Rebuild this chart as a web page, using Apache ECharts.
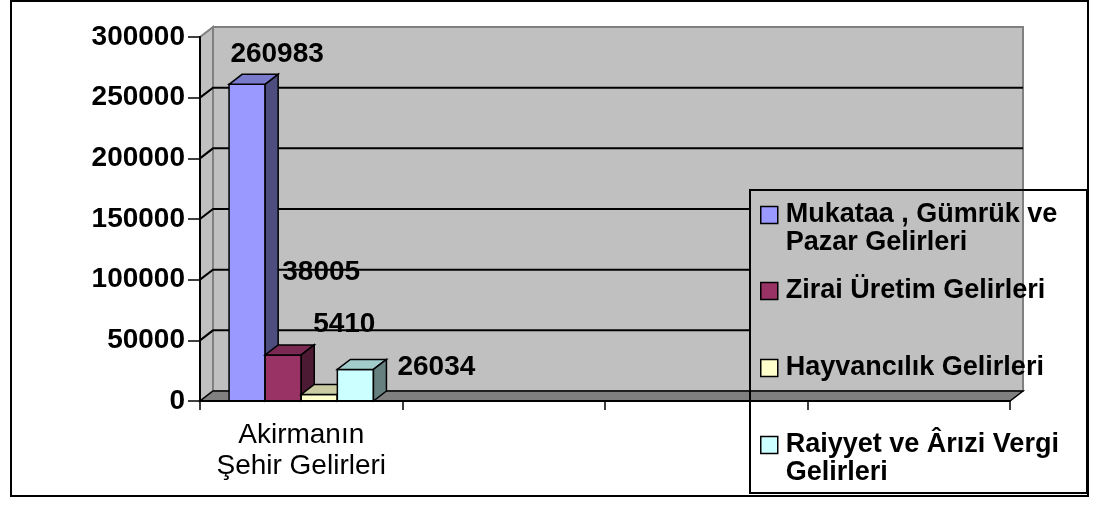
<!DOCTYPE html>
<html>
<head>
<meta charset="utf-8">
<script src="https://cdn.jsdelivr.net/npm/echarts@6/dist/echarts.min.js"></script>
<style>
  html, body { margin: 0; padding: 0; background: #fff; }
  #main { width: 1095px; height: 508px; }
</style>
</head>
<body>
<div id="main"></div>
<script>
// veriler
const categories = ['Akirmanın\nŞehir Gelirleri', '', '', ''];
const seriesNames = [
    'Mukataa , Gümrük ve\nPazar Gelirleri',
    'Zirai Üretim Gelirleri',
    'Hayvancılık Gelirleri',
    'Raiyyet ve Ârızi Vergi\nGelirleri'
];
const mukataa = [260983];
const zirai = [38005];
const hayvancilik = [5410];
const raiyyet = [26034];
const seriesValues = [mukataa, zirai, hayvancilik, raiyyet];

const yMax = 300000;
const yStep = 50000;

// görünüm
const colors = ['#9999FF', '#993366', '#FFFFCC', '#CCFFFF'];
const labelOffsets = [[30, -30], [38, -83], [25, -70], [81, -2]];
const legendTops = [173, 277, 354, 403];
const DEPTH = [13, -10];
const CAT_GAP = 0.287;
const LEGEND_BOX = { x: 750, y: 190, w: 337, h: 303 };
const FONT = '"Liberation Sans", Arial, sans-serif';

function shade(hex, f) {
    const n = parseInt(hex.slice(1), 16);
    const r = Math.round(((n >> 16) & 255) * f);
    const g = Math.round(((n >> 8) & 255) * f);
    const b = Math.round((n & 255) * f);
    return 'rgb(' + r + ',' + g + ',' + b + ')';
}

let myChart = echarts.init(document.getElementById('main'));

const gridValues = [];
for (let v = 0; v <= yMax; v += yStep) gridValues.push([0, v]);

function renderWalls(params, api) {
    const cs = params.coordSys;
    const [dx, dy] = DEPTH;
    const left = cs.x, right = cs.x + cs.width, top = cs.y, bottom = cs.y + cs.height;
    const v = api.value(1);
    const y = api.coord([0, v])[1];
    const children = [];
    if (params.dataIndex === 0) {
        children.push({
            type: 'rect',
            shape: { x: left + dx, y: top + dy, width: cs.width, height: cs.height },
            style: { fill: '#c0c0c0', stroke: '#808080', lineWidth: 2 }
        });
        children.push({
            type: 'polygon',
            shape: { points: [[left, top], [left + dx, top + dy], [left + dx, bottom + dy], [left, bottom]] },
            style: { fill: '#c0c0c0', stroke: '#808080', lineWidth: 2 }
        });
        children.push({
            type: 'polygon',
            shape: { points: [[left, bottom], [left + dx, bottom + dy], [right + dx, bottom + dy], [right, bottom]] },
            style: { fill: '#808080', stroke: '#000', lineWidth: 1.5 }
        });
    } else if (v < yMax) {
        let endX = right + dx;
        if (y + dy > LEGEND_BOX.y) endX = Math.min(endX, LEGEND_BOX.x);
        children.push({
            type: 'polyline',
            shape: { points: [[left, y], [left + dx, y + dy], [endX, y + dy]] },
            style: { stroke: '#000', lineWidth: 2, fill: 'none' }
        });
    }
    return { type: 'group', children: children };
}

function makeBarRender(si) {
    return function (params, api) {
        const [dx, dy] = DEPTH;
        const cat = api.value(0);
        const val = api.value(1);
        const base = api.coord([cat, 0]);
        const tp = api.coord([cat, val]);
        const band = api.size([1, 0])[0];
        const groupW = band * (1 - CAT_GAP);
        const bw = groupW / seriesValues.length;
        const x0 = base[0] - groupW / 2 + si * bw;
        const x1 = x0 + bw;
        const ty = tp[1], by = base[1];
        const c = colors[si];
        const line = { stroke: '#000', lineWidth: 1.5 };
        const off = labelOffsets[si];
        return {
            type: 'group',
            children: [
                { type: 'rect', shape: { x: x0, y: ty, width: bw, height: by - ty },
                  style: Object.assign({ fill: c }, line) },
                { type: 'polygon', shape: { points: [[x0, ty], [x0 + dx, ty + dy], [x1 + dx, ty + dy], [x1, ty]] },
                  style: Object.assign({ fill: shade(c, 0.8) }, line) },
                { type: 'polygon', shape: { points: [[x1, ty], [x1 + dx, ty + dy], [x1 + dx, by + dy], [x1, by]] },
                  style: Object.assign({ fill: shade(c, 0.5) }, line) },
                { type: 'text', z2: 50,
                  style: { text: String(val), x: (x0 + x1) / 2 + off[0], y: ty + off[1],
                           textAlign: 'center', textVerticalAlign: 'middle',
                           align: 'center', verticalAlign: 'middle',
                           fontSize: 28, fontWeight: 'bold', fontFamily: FONT, fill: '#000' } }
            ]
        };
    };
}

const series = [{
    type: 'custom',
    name: 'walls',
    silent: true,
    z: 1,
    renderItem: renderWalls,
    data: gridValues
}];
seriesValues.forEach(function (vals, i) {
    series.push({
        type: 'custom',
        name: seriesNames[i],
        z: 2,
        itemStyle: { color: colors[i] },
        renderItem: makeBarRender(i),
        data: vals.map(function (v, k) { return [k, v]; })
    });
});

option = {
    animation: false,
    backgroundColor: '#fff',
    textStyle: { fontFamily: FONT },
    grid: { left: 200, top: 37, right: 85, bottom: 107 },
    xAxis: {
        type: 'category',
        data: categories,
        z: 10,
        axisLine: { lineStyle: { color: '#000', width: 2 } },
        axisTick: { show: true, length: 9, lineStyle: { color: '#000', width: 1.5 } },
        axisLabel: { interval: 0, color: '#000', fontSize: 28, lineHeight: 31, margin: 19, fontFamily: FONT },
        splitLine: { show: false }
    },
    yAxis: {
        type: 'value',
        min: 0,
        max: yMax,
        interval: yStep,
        z: 10,
        axisLine: { show: true, lineStyle: { color: '#000', width: 2 } },
        axisTick: { show: true, length: 12, lineStyle: { color: '#000', width: 1.5 } },
        axisLabel: { color: '#000', fontSize: 28, fontWeight: 'bold', margin: 15, fontFamily: FONT,
                     formatter: function (v) { return String(v); } },
        splitLine: { show: false }
    },
    legend: seriesNames.map(function (name, i) {
        const twoLine = name.indexOf('\n') >= 0;
        return {
            data: [name],
            left: 760,
            top: legendTops[i],
            padding: 0,
            icon: 'rect',
            itemWidth: 17,
            itemHeight: 17,
            selectedMode: false,
            backgroundColor: 'transparent',
            formatter: function (n) { return twoLine ? '\n' + n : n; },
            itemStyle: { borderColor: '#000', borderWidth: 1.5 },
            textStyle: { color: '#000', fontSize: 27, fontWeight: 'bold', lineHeight: 28, fontFamily: FONT,
                         padding: [0, 0, 0, 3] }
        };
    }),
    graphic: [
        { type: 'rect', z: 100, silent: true,
          shape: { x: 11, y: 1, width: 1077, height: 495 },
          style: { fill: 'none', stroke: '#000', lineWidth: 2 } },
        { type: 'rect', z: 100, silent: true,
          shape: { x: LEGEND_BOX.x, y: LEGEND_BOX.y, width: LEGEND_BOX.w, height: LEGEND_BOX.h },
          style: { fill: 'none', stroke: '#000', lineWidth: 2 } }
    ],
    series: series
};

myChart.setOption(option);
</script>
</body>
</html>
